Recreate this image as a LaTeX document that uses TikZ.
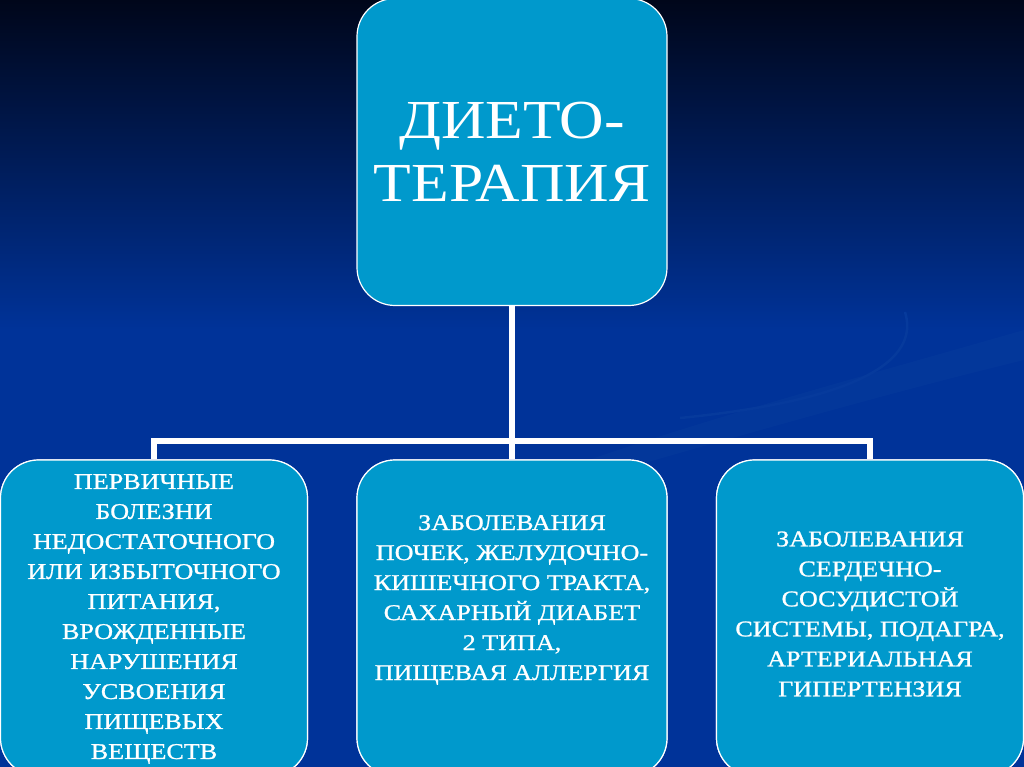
\documentclass[tikz,border=0pt]{standalone}
\usepackage{fontspec}
\setmainfont[FakeStretch=1.12]{Liberation Serif}
\newfontfamily\lowfont[FakeStretch=1.16, FakeBold=1]{Liberation Serif}
\usetikzlibrary{positioning,calc}
\usepackage{xcolor}
\definecolor{bgtop}{HTML}{00061A}
\definecolor{bgbot}{HTML}{003399}
\definecolor{boxblue}{HTML}{0099CC}
\definecolor{swoosh}{HTML}{063A9C}
\tikzset{
  box/.style={draw=white, line width=1.2pt, rounded corners=38pt, fill=boxblue, inner sep=0pt},
  topbox/.style={box, minimum width=310pt, minimum height=307pt, align=center, text=white,
    font=\fontsize{55}{63}\selectfont},
  lowbox/.style={box, minimum width=307pt, minimum height=316pt},
  boxtext/.style={align=center, text=white, font=\lowfont\fontsize{22.5}{30}\selectfont},
  link/.style={draw=white, line width=6pt, line join=miter}
}

\begin{document}
\begin{tikzpicture}[x=1pt, y=-1pt]
  \useasboundingbox (0,0) rectangle (1024,767);
  \clip (0,0) rectangle (1024,767);
  % background
  \shade[top color=bgtop, bottom color=bgbot] (0,0) rectangle (1024,330);
  \fill[bgbot] (0,329) rectangle (1024,767);
  \draw[swoosh, line width=2.5pt] (905,312) .. controls (920,360) and (860,400) .. (680,418);
  \fill[swoosh, opacity=0.6] (1024,330) .. controls (850,380) and (700,420) .. (560,470)
    -- (620,470) .. controls (760,430) and (900,390) .. (1024,360) -- cycle;

  \coordinate (bus) at (512,441);
  \node[topbox] (diet) at (512,152) {ДИЕТО-\\ТЕРАПИЯ};
  \node[lowbox] (prim) at (154,618) {};
  \node[lowbox, minimum width=310pt] (kidney) at (512,618) {};
  \node[lowbox] (cardio) at (870,618) {};

  \draw[link] (diet.south) -- (kidney.north);
  \draw[link] (prim.north) |- (bus) -| (cardio.north);
  % redraw the boxes over the line ends
  \node[lowbox] at (prim) {};
  \node[lowbox, minimum width=310pt] at (kidney) {};
  \node[lowbox] at (cardio) {};

  \node[boxtext] (primtext) at ([yshift=-1pt]prim.center) {ПЕРВИЧНЫЕ\\БОЛЕЗНИ\\НЕДОСТАТОЧНОГО\\ИЛИ ИЗБЫТОЧНОГО\\ПИТАНИЯ,\\ВРОЖДЕННЫЕ\\НАРУШЕНИЯ\\УСВОЕНИЯ\\ПИЩЕВЫХ\\ВЕЩЕСТВ};
  \node[boxtext] (kidneytext) at ([yshift=18pt]kidney.center) {ЗАБОЛЕВАНИЯ\\ПОЧЕК, ЖЕЛУДОЧНО-\\КИШЕЧНОГО ТРАКТА,\\САХАРНЫЙ ДИАБЕТ\\2 ТИПА,\\ПИЩЕВАЯ АЛЛЕРГИЯ};
  \node[boxtext] (cardiotext) at ([yshift=4pt]cardio.center) {ЗАБОЛЕВАНИЯ\\СЕРДЕЧНО-\\СОСУДИСТОЙ\\СИСТЕМЫ, ПОДАГРА,\\АРТЕРИАЛЬНАЯ\\ГИПЕРТЕНЗИЯ};
\end{tikzpicture}
\end{document}
